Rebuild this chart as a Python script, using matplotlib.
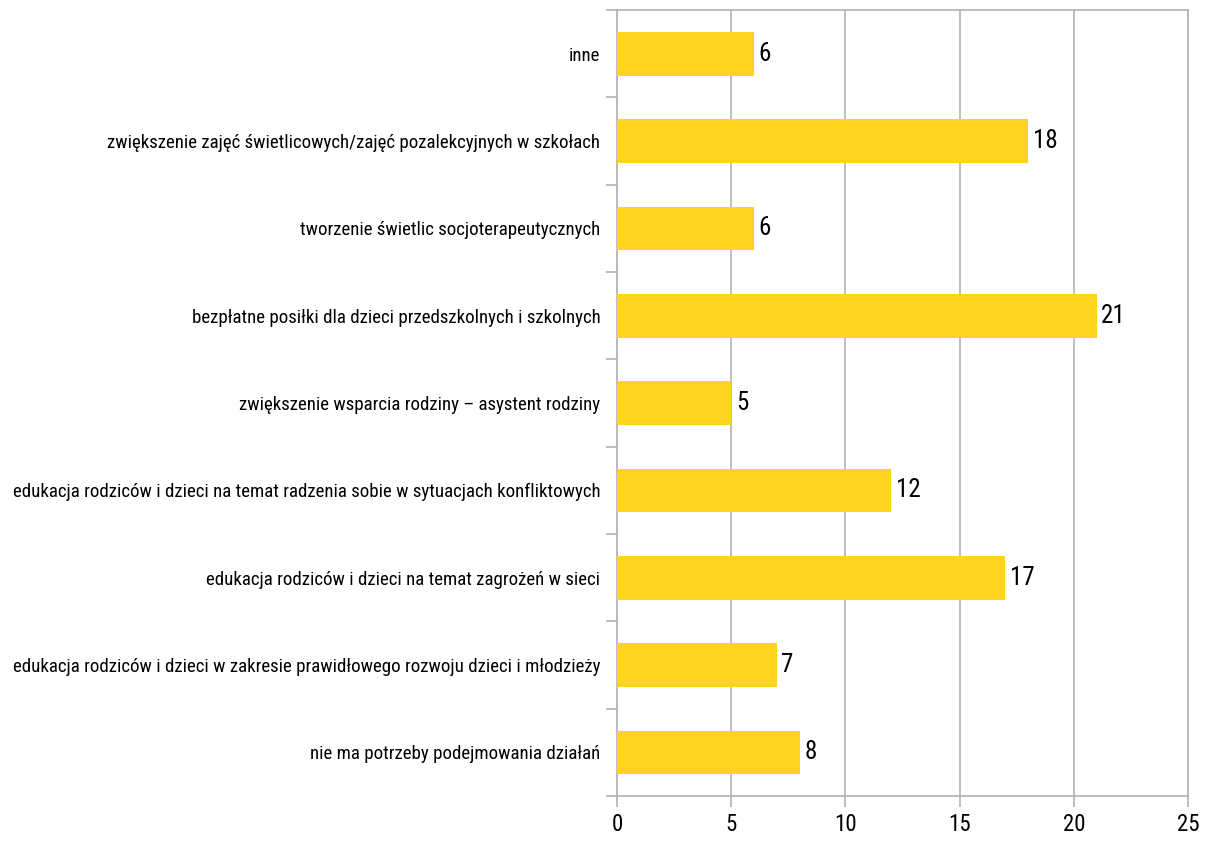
import matplotlib
matplotlib.use("Agg")
import matplotlib.pyplot as plt
import numpy as np

categories = [
    "nie ma potrzeby podejmowania działań",
    "edukacja rodziców i dzieci w zakresie prawidłowego rozwoju dzieci i młodzieży",
    "edukacja rodziców i dzieci na temat zagrożeń w sieci",
    "edukacja rodziców i dzieci na temat radzenia sobie w sytuacjach konfliktowych",
    "zwiększenie wsparcia rodziny – asystent rodziny",
    "bezpłatne posiłki dla dzieci przedszkolnych i szkolnych",
    "tworzenie świetlic socjoterapeutycznych",
    "zwiększenie zajęć świetlicowych/zajęć pozalekcyjnych w szkołach",
    "inne",
]
values = [8, 7, 17, 12, 5, 21, 6, 18, 6]
x_ticks = [0, 5, 10, 15, 20, 25]

plt.rcParams['font.family'] = ['Roboto Condensed', 'DejaVu Sans']
grid_col = "#b3b3b3"

fig = plt.figure(figsize=(12.08, 8.41), dpi=100)
ax = fig.add_axes([0.5108, 0.0535, 0.4726, 0.9345])

y = np.arange(len(categories))
ax.barh(y, values, height=0.5, color="#FFD320", zorder=3)
for yi, v in zip(y, values):
    ax.text(v + 0.2, yi, str(v), va="center", ha="left", fontsize=18, color="#000000")

ax.set_xlim(0, 25)
ax.set_ylim(-0.5, len(categories) - 0.5)
ax.set_xticks(x_ticks)
ax.set_xticklabels([str(t) for t in x_ticks], fontsize=16.5)
ax.xaxis.grid(True, color=grid_col, linewidth=1.2, zorder=0)

# category labels centred, tick marks on boundaries
ax.set_yticks(np.arange(len(categories) + 1) - 0.5)
ax.set_yticklabels([])
ax.set_yticks(y, minor=True)
ax.set_yticklabels(categories, minor=True, fontsize=13.6)
ax.tick_params(axis="y", which="minor", length=0, pad=12)
ax.tick_params(axis="y", which="major", length=8, color=grid_col, width=1.2)
ax.tick_params(axis="x", length=8, color=grid_col, width=1.2, pad=4)

for s in ax.spines.values():
    s.set_color(grid_col)
    s.set_linewidth(1.2)

fig.savefig("out.png", dpi=100)
